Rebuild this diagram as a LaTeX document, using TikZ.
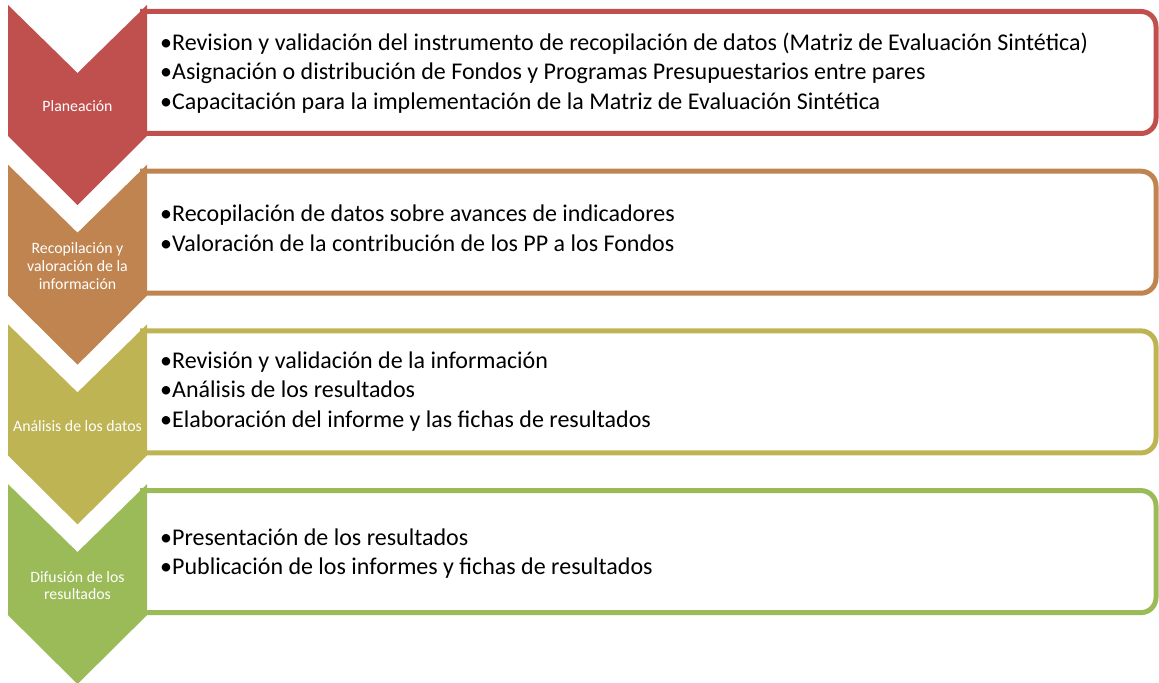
\documentclass[tikz,border=0pt]{standalone}
\usepackage{fontspec}
\setmainfont{Carlito}
\definecolor{cA}{RGB}{192,80,77}
\definecolor{cB}{RGB}{192,132,80}
\definecolor{cC}{RGB}{190,180,83}
\definecolor{cD}{RGB}{155,187,89}
\tikzset{
  boxline/.style={line width=5bp, rounded corners=15bp, fill=white},
  chevlabel/.style={text=white, font=\fontsize{15.8bp}{17.8bp}\selectfont, align=center, inner sep=0pt},
  itemtext/.style={text=black, font=\fontsize{24bp}{28bp}\selectfont, anchor=base west, inner sep=0pt},
}
\begin{document}
\begin{tikzpicture}[x=1bp,y=-1bp]
\useasboundingbox (0,0) rectangle (1159,683);
\clip (0,0) rectangle (1159,683);
% stage geometry: top of chevron t
\foreach \t/\c [count=\i] in {5/cA,164.7/cB,324.4/cC,484.1/cD}{
  \path[boxline, draw=\c] (140,\t+6.5) -- (1156,\t+6.5) -- (1156,\t+128.5) -- (140,\t+128.5);
  \fill[\c] (8,\t) -- (77.5,\t+68) -- (147,\t) -- (147,\t+131) -- (77.5,\t+200) -- (8,\t+131) -- cycle;
}
\node[chevlabel] (l1) at (77.5,106.5) {Planeación};
\node[chevlabel] (l2) at (77.5,266) {Recopilación y\\valoración de la\\información};
\node[chevlabel] (l3) at (77.5,426) {Análisis de los datos};
\node[chevlabel] (l4) at (77.5,585.5) {Difusión de los\\resultados};

\node[itemtext] (a1) at (160,50.5) {•Revision y validación del instrumento de recopilación de datos (Matriz de Evaluación Sintética)};
\node[itemtext] (a2) at (160,79.8) {•Asignación o distribución de Fondos y Programas Presupuestarios entre pares};
\node[itemtext] (a3) at (160,109.1) {•Capacitación para la implementación de la Matriz de Evaluación Sintética};

\node[itemtext] (b1) at (160,222) {•Recopilación de datos sobre avances de indicadores};
\node[itemtext] (b2) at (160,251.3) {•Valoración de la contribución de los PP a los Fondos};

\node[itemtext] (c1) at (160,368) {•Revisión y validación de la información};
\node[itemtext] (c2) at (160,397.5) {•Análisis de los resultados};
\node[itemtext] (c3) at (160,427) {•Elaboración del informe y las fichas de resultados};

\node[itemtext] (d1) at (160,545) {•Presentación de los resultados};
\node[itemtext] (d2) at (160,574.3) {•Publicación de los informes y fichas de resultados};
\end{tikzpicture}
\end{document}
